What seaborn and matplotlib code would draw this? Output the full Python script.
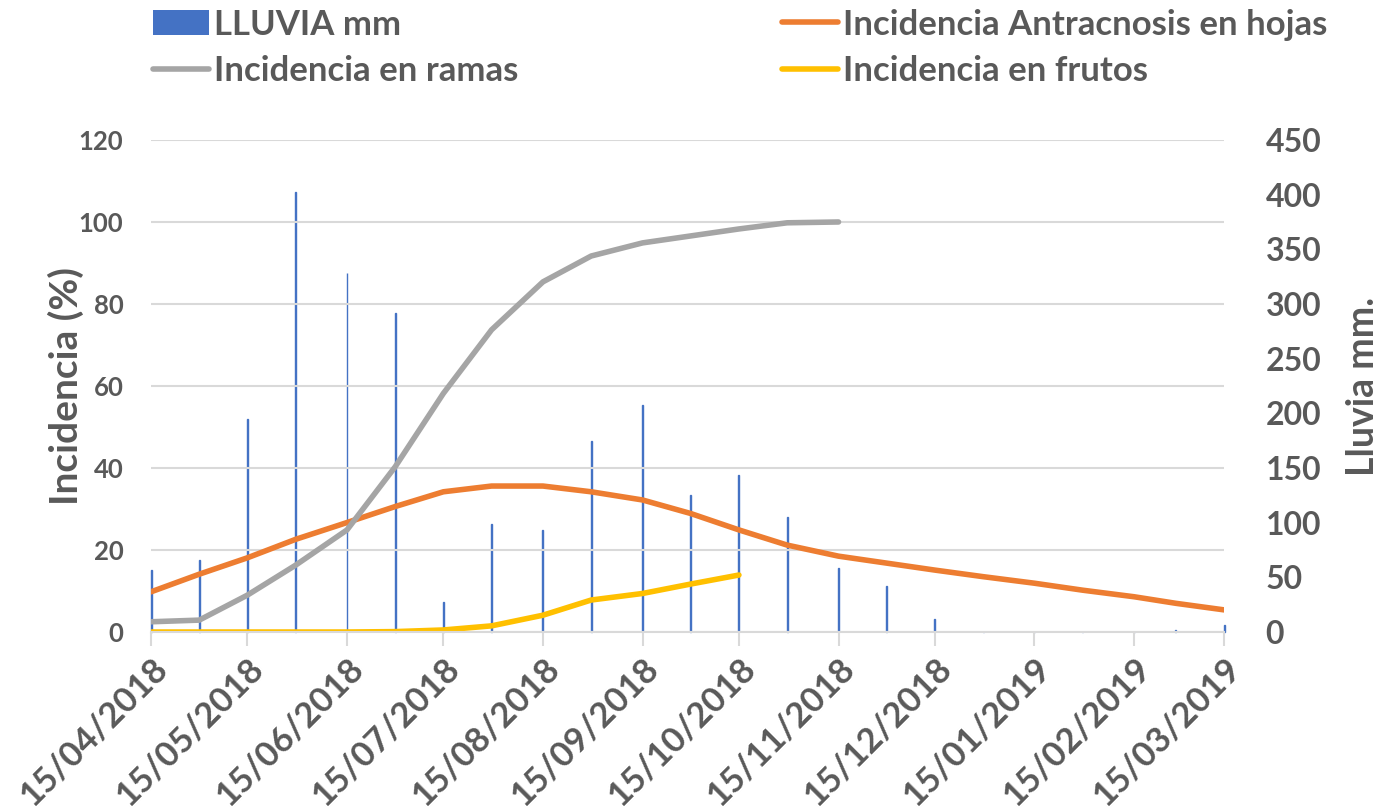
import matplotlib
matplotlib.use("Agg")
import matplotlib.pyplot as plt
import matplotlib.dates as mdates
from matplotlib.patches import Patch
from matplotlib.lines import Line2D
import numpy as np
import pandas as pd
import seaborn as sns

# ── Data ─────────────────────────────────────────────────────────────────────
fechas = ["2018-04-15", "2018-04-30", "2018-05-15", "2018-05-30", "2018-06-15",
          "2018-06-30", "2018-07-15", "2018-07-30", "2018-08-15", "2018-08-30",
          "2018-09-15", "2018-09-30", "2018-10-15", "2018-10-30", "2018-11-15",
          "2018-11-30", "2018-12-15", "2018-12-30", "2019-01-15", "2019-01-30",
          "2019-02-15", "2019-02-28", "2019-03-15"]
lluvia_mm = [57, 66, 195, 402, 328, 292, 27, 99, 93, 175, 208, 125, 144, 105,
             59, 42, 12, 0, 0, 0, 0, 1.5, 6]
inc_hojas = [9.8, 14.1, 18.1, 22.6, 26.7, 30.6, 34.2, 35.6, 35.6, 34.2, 32.2,
             28.9, 24.9, 21.2, 18.5, 16.8, 15.1, 13.5, 11.9, 10.2, 8.6, 7.0, 5.4]
inc_ramas = [2.5, 2.9, 9.0, 16.3, 24.9, 40.3, 58.2, 73.7, 85.4, 91.7, 94.9,
             96.6, 98.3, 99.8, 100.0] + [np.nan] * 8
inc_frutos = [0, 0, 0, 0, 0, 0.1, 0.5, 1.5, 4.1, 7.8, 9.4, 11.7, 13.9] + [np.nan] * 10

tick_fechas = ["2018-04-15", "2018-05-15", "2018-06-15", "2018-07-15", "2018-08-15",
               "2018-09-15", "2018-10-15", "2018-11-15", "2018-12-15", "2019-01-15",
               "2019-02-15", "2019-03-15"]

df = pd.DataFrame({
    "fecha" : pd.to_datetime(fechas),
    "lluvia": lluvia_mm,
    "hojas" : inc_hojas,
    "ramas" : inc_ramas,
    "frutos": inc_frutos,
})

# ── Style ────────────────────────────────────────────────────────────────────
sns.set_theme(style="white")
plt.rcParams["font.family"] = ["Lato", "DejaVu Sans"]
TXT = "#595959"
C_BAR, C_HOJ, C_RAM, C_FRU = "#4472C4", "#ED7D31", "#A5A5A5", "#FFC000"

fig = plt.figure(figsize=(13.87, 8.11), dpi=100)
ax = fig.add_axes([0.1089, 0.2207, 0.7736, 0.6067])
ax2 = ax.twinx()

# rain bars on the secondary axis, drawn beneath the lines
bars = ax2.bar(df["fecha"], df["lluvia"], width=0.3, color=C_BAR, edgecolor=C_BAR,
               linewidth=1.0, zorder=2)
for b in bars:
    b.set_clip_on(False)
ax2.set_ylim(0, 450)
ax2.set_yticks(np.arange(0, 451, 50))

ax.set_zorder(ax2.get_zorder() + 1)
ax.patch.set_visible(False)

lw = 4.0
sns.lineplot(data=df, x="fecha", y="hojas", ax=ax, color=C_HOJ, linewidth=lw,
             solid_capstyle="round", legend=False)
sns.lineplot(data=df.dropna(subset=["ramas"]), x="fecha", y="ramas", ax=ax,
             color=C_RAM, linewidth=lw, solid_capstyle="round", legend=False)
sns.lineplot(data=df.dropna(subset=["frutos"]), x="fecha", y="frutos", ax=ax,
             color=C_FRU, linewidth=lw, solid_capstyle="round", legend=False)

ax.set_ylim(0, 120)
ax.set_yticks(np.arange(0, 121, 20))
ax.set_xlim(pd.Timestamp("2018-04-15"), pd.Timestamp("2019-03-15"))
ax.set_xticks(pd.to_datetime(tick_fechas))
ax.xaxis.set_major_formatter(mdates.DateFormatter("%d/%m/%Y"))

ax.grid(axis="y", color="#D9D9D9", linewidth=1.5, zorder=0)
ax.grid(axis="x", visible=False)
ax2.grid(False)

for a in (ax, ax2):
    for s in ("top", "left", "right"):
        a.spines[s].set_visible(False)
ax.spines["bottom"].set_color("#D9D9D9")
ax.spines["bottom"].set_linewidth(1.5)
ax2.spines["bottom"].set_visible(False)

ax.tick_params(axis="x", which="major", bottom=True, length=10, width=1.5,
               color="#D9D9D9", pad=4)
ax.tick_params(axis="y", length=0, pad=20)
ax2.tick_params(axis="y", length=0, pad=30)

for lab in ax.get_xticklabels():
    lab.set_rotation(45)
    lab.set_ha("right")
    lab.set_rotation_mode("anchor")
    lab.set_fontsize(25)
    lab.set_fontweight("bold")
    lab.set_color(TXT)
for lab in ax.get_yticklabels():
    lab.set_fontsize(18.5)
    lab.set_fontweight("bold")
    lab.set_color(TXT)
for lab in ax2.get_yticklabels():
    lab.set_fontsize(23)
    lab.set_fontweight("bold")
    lab.set_color(TXT)

ax.set_xlabel("")
ax.set_ylabel("Incidencia (%)", fontsize=28, fontweight="bold", color=TXT, labelpad=-4)
ax2.set_ylabel("Lluvia mm.", fontsize=27, fontweight="bold", color=TXT, labelpad=18)

# ── Legend ───────────────────────────────────────────────────────────────────
handles = [
    Patch(facecolor=C_BAR, edgecolor="none"),
    Line2D([], [], color=C_RAM, linewidth=lw, solid_capstyle="round"),
    Line2D([], [], color=C_HOJ, linewidth=lw, solid_capstyle="round"),
    Line2D([], [], color=C_FRU, linewidth=lw, solid_capstyle="round"),
]
labels = ["LLUVIA mm", "Incidencia en ramas",
          "Incidencia Antracnosis en hojas", "Incidencia en frutos"]
fig.legend(handles, labels, ncol=2, loc="upper left", bbox_to_anchor=(0.088, 1.028),
           frameon=False, handlelength=1.6, handletextpad=0.15, columnspacing=7.6,
           labelspacing=0.42, prop={"size": 25, "weight": "bold"}, labelcolor=TXT)

fig.savefig("out.png", dpi=100)
